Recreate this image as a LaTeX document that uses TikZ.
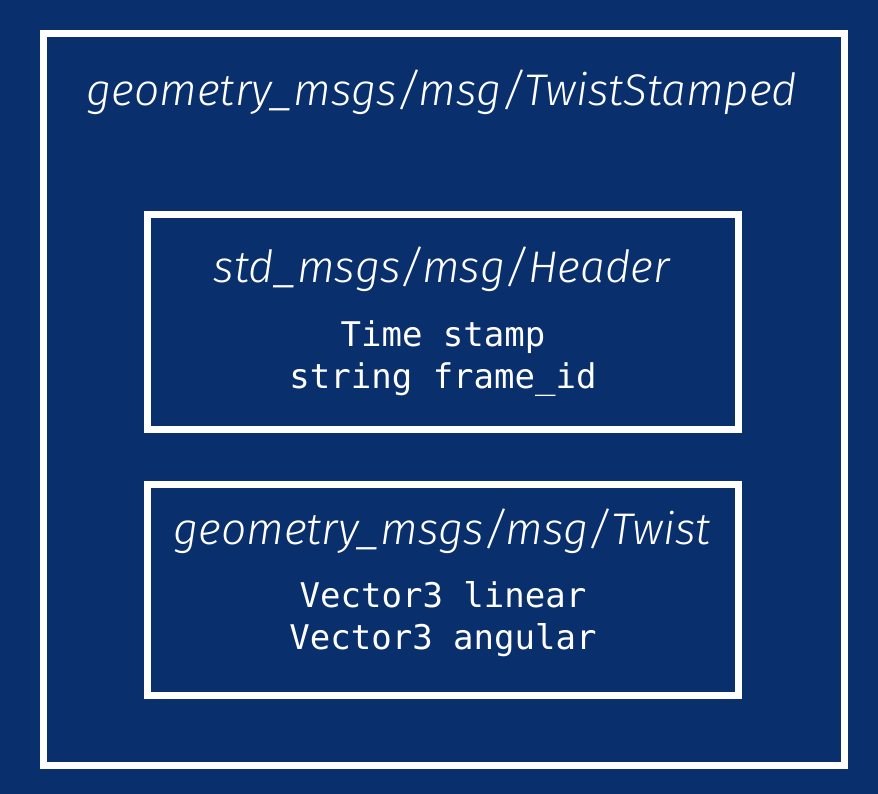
\documentclass[tikz,border=0pt]{standalone}
\usepackage{fontspec}
\setmainfont{Fira Sans Light}
\newfontfamily\monofont{DejaVu Sans Mono}
\definecolor{bg}{HTML}{09306D}
\begin{document}
\begin{tikzpicture}[x=1pt,y=-1pt,
  frame/.style={draw=white,line width=7pt},
  title/.style={text=white,font=\fontsize{44.3}{50}\selectfont\itshape,anchor=center,inner sep=0pt},
  body/.style={text=white,font=\monofont\fontsize{34}{42}\selectfont,align=center,anchor=center,inner sep=0pt}]
\fill[bg] (0,0) rectangle (878,794);
\useasboundingbox (0,0) rectangle (878,794);
\draw[frame] (43.5,33.5) rectangle (844,765);
\draw[frame] (147,215) rectangle (738,429);
\draw[frame] (147,484) rectangle (738,695);
\node[title] (t0) at (442,92) {geometry\_msgs/msg/TwistStamped};
\node[title] (t1) at (442,269) {std\_msgs/msg/Header};
\node[body] (b1) at (443,359) {Time stamp\\string frame\_id};
\node[title] (t2) at (442,531) {geometry\_msgs/msg/Twist};
\node[body] (b2) at (443,619) {Vector3 linear\\Vector3 angular};
\end{tikzpicture}
\end{document}
